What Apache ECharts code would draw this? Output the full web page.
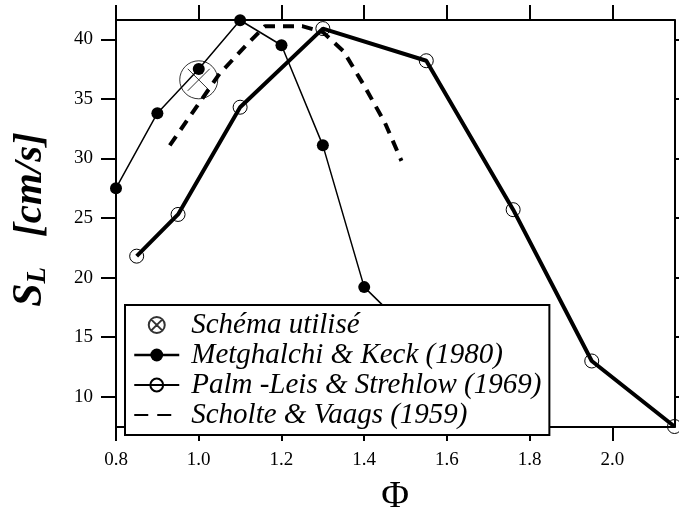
<!DOCTYPE html>
<html>
<head>
<meta charset="utf-8">
<script src="https://cdn.jsdelivr.net/npm/echarts@6/dist/echarts.min.js"></script>
<style>
  html, body { margin: 0; padding: 0; background: #fff; }
  #chart { width: 679px; height: 512px; }
</style>
</head>
<body>
<div id="chart"></div>
<script>
// Tick positions for equivalence ratio and laminar burning velocity
const phiTicks = [0.8, 1.0, 1.2, 1.4, 1.6, 1.8, 2.0];
const speedTicks = [10, 15, 20, 25, 30, 35, 40];

// Metghalchi & Keck (1980)
const mkPhi = [0.8, 0.9, 1.0, 1.1, 1.2, 1.3, 1.4, 1.5];
const mkSpeed = [27.5, 33.8, 37.5, 41.6, 39.5, 31.1, 19.2, 15.8];

// Palm-Leis & Strehlow (1969)
const plPhi = [0.85, 0.95, 1.1, 1.3, 1.55, 1.76, 1.95, 2.15];
const plSpeed = [21.8, 25.3, 34.3, 40.9, 38.2, 25.7, 13.0, 7.5];

// Scholte & Vaags (1959)
const svPhi = [0.93, 1.05, 1.12, 1.16, 1.25, 1.3, 1.35, 1.4, 1.45, 1.49];
const svSpeed = [31.1, 37.1, 39.7, 41.1, 41.1, 40.6, 39.0, 36.1, 33.0, 29.8];

// Scheme used in this work
const schemePhi = [1.0];
const schemeSpeed = [36.6];

const names = {
  scheme: 'Schéma utilisé',
  mk: 'Metghalchi & Keck (1980)',
  pl: 'Palm -Leis & Strehlow (1969)',
  sv: 'Scholte & Vaags (1959)'
};

const zip = (xs, ys) => xs.map((x, i) => [x, ys[i]]);

const SERIF = '"Liberation Serif", "Times New Roman", serif';
const BLACK = '#000';

// circle with a cross inside (chart marker) and a tight ⊗ (legend icon)
const schemeSymbol = 'path://M0,19A19,19 0 1,1 38,19A19,19 0 1,1 0,19Z M8,8L30,30M30,8L8,30';
const schemeIcon = 'path://M0,8A8,8 0 1,1 16,8A8,8 0 1,1 0,8Z M2.34,2.34L13.66,13.66M13.66,2.34L2.34,13.66';

const axisLine = { show: true, lineStyle: { color: BLACK, width: 2 } };
const tickStyle = { color: BLACK, width: 2 };
const labelFont = { fontFamily: SERIF, fontSize: 19, color: BLACK };
const titleFont = { fontFamily: SERIF, fontWeight: 'bold', fontStyle: 'italic', color: BLACK };

const xRange = { min: 0.8, max: 2.15 };
const yRange = { min: 7.46, max: 41.62 };

const chart = echarts.init(document.getElementById('chart'), null, { renderer: 'canvas' });

chart.setOption({
  animation: false,
  backgroundColor: '#fff',
  grid: { left: 116, right: 4.5, top: 20, bottom: 85, containLabel: false, outerBoundsMode: 'none' },
  xAxis: [
    {
      type: 'value', position: 'bottom', ...xRange,
      axisLine,
      axisTick: { show: true, inside: false, length: 14, lineStyle: tickStyle, customValues: phiTicks },
      axisLabel: { show: true, margin: 24, ...labelFont, customValues: phiTicks,
                   formatter: v => v.toFixed(1) },
      splitLine: { show: false },
      name: 'Φ', nameLocation: 'middle', nameGap: 51,
      nameTextStyle: { fontFamily: SERIF, fontSize: 38, color: BLACK }
    },
    {
      type: 'value', position: 'top', ...xRange,
      axisLine,
      axisTick: { show: true, inside: false, length: 15, lineStyle: tickStyle, customValues: phiTicks },
      axisLabel: { show: false },
      splitLine: { show: false }
    }
  ],
  yAxis: [
    {
      type: 'value', position: 'left', ...yRange,
      axisLine,
      axisTick: { show: true, inside: false, length: 15, lineStyle: tickStyle, customValues: speedTicks },
      axisLabel: { show: true, margin: 23, ...labelFont, customValues: speedTicks },
      splitLine: { show: false },
      name: '{s|S}{l|L}{gap|}{u|[cm/s]}',
      nameLocation: 'middle', nameRotate: 90, nameGap: 64,
      nameTextStyle: {
        ...titleFont,
        padding: [0, 0, 0, 8],
        rich: {
          s: { ...titleFont, fontSize: 42, lineHeight: 44 },
          l: { ...titleFont, fontSize: 27, verticalAlign: 'bottom', lineHeight: 30 },
          gap: { width: 30 },
          u: { ...titleFont, fontSize: 41, lineHeight: 44 }
        }
      }
    },
    {
      type: 'value', position: 'right', ...yRange,
      axisLine,
      axisTick: { show: true, inside: false, length: 14, lineStyle: tickStyle, customValues: speedTicks },
      axisLabel: { show: false },
      splitLine: { show: false }
    }
  ],
  legend: {
    orient: 'vertical', left: 125, top: 305,
    padding: [5, 8, 5, 8],
    backgroundColor: '#fff', borderColor: BLACK, borderWidth: 2, borderRadius: 0,
    itemWidth: 45, itemHeight: 16, itemGap: 0,
    selectedMode: false, z: 10,
    textStyle: { fontFamily: SERIF, fontStyle: 'italic', fontSize: 29, color: BLACK,
                 lineHeight: 30, padding: [0, 0, 0, 7] },
    data: [
      { name: names.scheme, icon: schemeIcon },
      { name: names.mk, lineStyle: { width: 2.5 } },
      { name: names.pl },
      { name: names.sv, itemStyle: { opacity: 0 }, lineStyle: { type: [14, 9] } }
    ]
  },
  series: [
    {
      name: names.pl, type: 'line', xAxisIndex: 0, yAxisIndex: 0,
      data: zip(plPhi, plSpeed), clip: false,
      symbol: 'circle', symbolSize: 14,
      itemStyle: { color: 'rgba(0,0,0,0)', borderColor: BLACK, borderWidth: 1 },
      lineStyle: { color: BLACK, width: 4 },
      emphasis: { disabled: true }, z: 2
    },
    {
      name: names.sv, type: 'line', xAxisIndex: 0, yAxisIndex: 0,
      data: zip(svPhi, svSpeed), showSymbol: false, symbol: 'none',
      itemStyle: { color: BLACK },
      lineStyle: { color: BLACK, width: 4, type: [11, 8] },
      emphasis: { disabled: true }, z: 2
    },
    {
      name: names.mk, type: 'line', xAxisIndex: 0, yAxisIndex: 0,
      data: zip(mkPhi, mkSpeed),
      symbol: 'circle', symbolSize: 12,
      itemStyle: { color: BLACK },
      lineStyle: { color: BLACK, width: 1.5 },
      emphasis: { disabled: true }, z: 3
    },
    {
      name: names.scheme, type: 'scatter', xAxisIndex: 0, yAxisIndex: 0,
      data: zip(schemePhi, schemeSpeed),
      symbol: schemeSymbol, symbolSize: 38,
      itemStyle: { color: 'rgba(0,0,0,0)', borderColor: BLACK, borderWidth: 1 },
      emphasis: { disabled: true }, z: 4
    }
  ]
});
</script>
</body>
</html>
